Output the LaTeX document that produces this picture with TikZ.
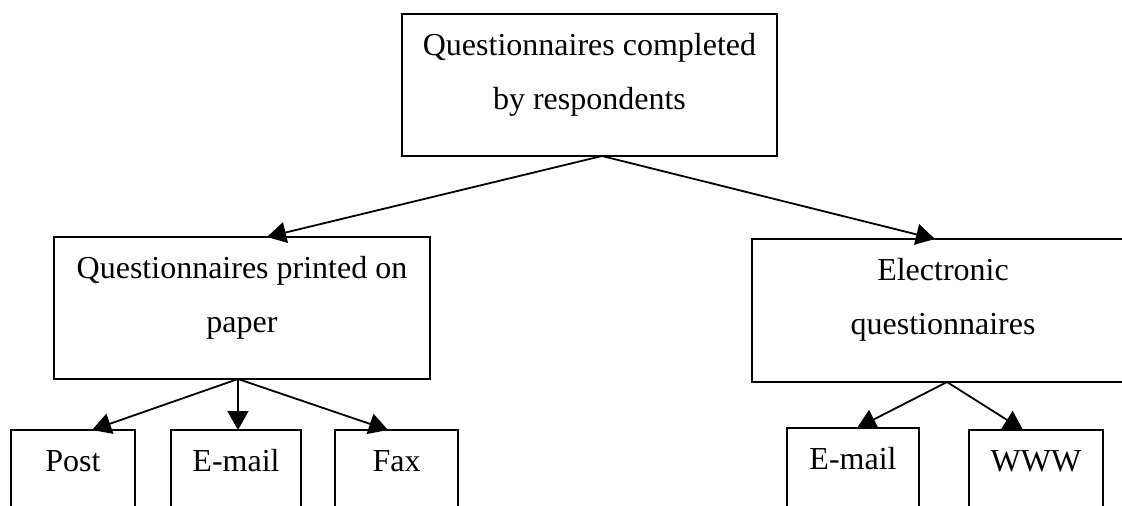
\documentclass[tikz,border=0pt]{standalone}
\usepackage{fontspec}
\setmainfont{Liberation Serif}
\usetikzlibrary{arrows.meta}

\tikzset{
  qbox/.style={draw, line width=0.9pt, align=center, anchor=north,
    inner xsep=2pt, inner ysep=0pt, outer sep=0pt,
    font=\fontsize{16}{27}\selectfont, text height=20.5pt},
  % two-line boxes: baseline sits on the last line
  qbox2/.style={qbox, text height=47.5pt},
  link/.style={line width=0.9pt, -{Triangle[length=9.5pt,width=10.5pt]}}
}

\begin{document}
\begin{tikzpicture}[x=0.5pt,y=-0.5pt]
  \clip (0,0) rectangle (1122,505);

  % top level
  \node[qbox2, minimum width=187.5pt, text depth=23.5pt] (top) at (589.5,14)
    {Questionnaires completed\\by respondents};

  % second level
  \node[qbox2, minimum width=188pt, text depth=23.5pt] (paper) at (242,237)
    {Questionnaires printed on\\paper};
  \node[qbox2, minimum width=191pt, text depth=24pt] (elec) at (943,239)
    {Electronic\\questionnaires};

  % third level
  \node[qbox, minimum width=62pt, text depth=29.5pt] (post) at (73,430) {Post};
  \node[qbox, minimum width=65pt, text depth=29.5pt] (mailp) at (236,430) {E-mail};
  \node[qbox, minimum width=61.5pt, text depth=29.5pt] (fax) at (396.5,430) {Fax};
  \node[qbox, minimum width=66pt, text depth=30.5pt] (maile) at (853,428) {E-mail};
  \node[qbox, minimum width=67pt, text depth=29.5pt] (www) at (1036,430) {WWW};

  \draw[link] ([xshift=6.25pt]top.south) -- ([xshift=12.5pt]paper.north);
  \draw[link] ([xshift=6.25pt]top.south) -- ([xshift=-4pt]elec.north);

  \draw[link] ([xshift=-2pt]paper.south) -- ([xshift=9.5pt]post.north);
  \draw[link] ([xshift=-2pt]paper.south) -- ([xshift=1pt]mailp.north);
  \draw[link] ([xshift=-2pt]paper.south) -- ([xshift=-4.25pt]fax.north);

  \draw[link] ([xshift=2pt]elec.south) -- ([xshift=2pt]maile.north);
  \draw[link] ([xshift=2pt]elec.south) -- ([xshift=-6.5pt]www.north);
\end{tikzpicture}
\end{document}
